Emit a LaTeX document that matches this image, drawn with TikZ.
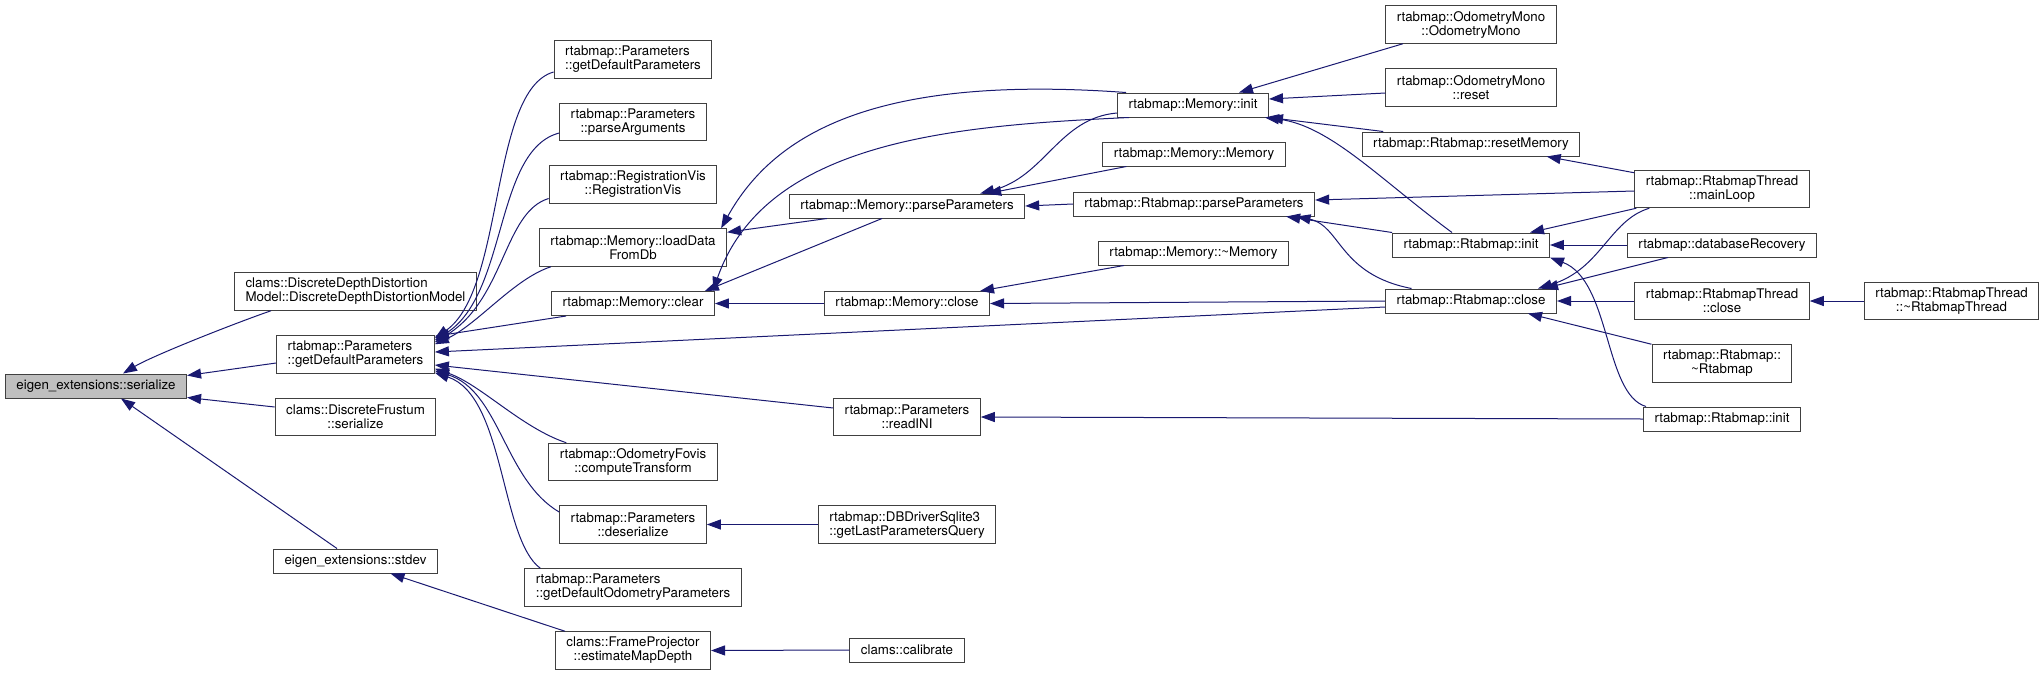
\documentclass[tikz,border=0pt]{standalone}
\usepackage{fontspec}
\setmainfont{TeX Gyre Heros}
\usepackage{tikz}
\usetikzlibrary{arrows.meta}
\definecolor{midnight}{RGB}{25,25,112}
\definecolor{boxline}{RGB}{64,64,64}
\definecolor{selfill}{RGB}{191,191,191}

\begin{document}
\begin{tikzpicture}[x=1pt, y=-1pt,
  fn/.style={draw=boxline, line width=1pt, fill=white, inner xsep=11pt, inner ysep=2pt, minimum height=24pt, align=center, font=\fontsize{13.3pt}{14pt}\selectfont},
  two/.style={minimum height=37.5pt},
  cur/.style={fn, fill=selfill},
  call/.style={draw=midnight, line width=1pt, -{Triangle[length=14pt, width=10pt]}}
]
  \useasboundingbox (0,0) rectangle (2044,675);

  \node[cur] (ser) at (96,386) {eigen\_extensions::serialize};
  \node[fn, two, align=left] (ddd) at (355.5,291.5) {clams::DiscreteDepthDistortion\\Model::DiscreteDepthDistortionModel};
  \node[fn, two, align=left] (gdp) at (355.5,354.5) {rtabmap::Parameters\\::getDefaultParameters};
  \node[fn, two] (dfs) at (355.5,417) {clams::DiscreteFrustum\\::serialize};
  \node[fn] (sdv) at (355.5,561) {eigen\_extensions::stdev};
  \node[fn, two, align=left] (gdp2) at (633,59.5) {rtabmap::Parameters\\::getDefaultParameters};
  \node[fn, two] (pa) at (633,122) {rtabmap::Parameters\\::parseArguments};
  \node[fn, two] (rv) at (633,184.5) {rtabmap::RegistrationVis\\::RegistrationVis};
  \node[fn, two] (ldb) at (633,247.5) {rtabmap::Memory::loadData\\FromDb};
  \node[fn] (mclr) at (633,303.5) {rtabmap::Memory::clear};
  \node[fn, two] (fov) at (633,462) {rtabmap::OdometryFovis\\::computeTransform};
  \node[fn, two] (des) at (633,524.5) {rtabmap::Parameters\\::deserialize};
  \node[fn, two, align=left] (gop) at (633,587.5) {rtabmap::Parameters\\::getDefaultOdometryParameters};
  \node[fn, two] (fpe) at (633,650.5) {clams::FrameProjector\\::estimateMapDepth};
  \node[fn] (mpp) at (907,206) {rtabmap::Memory::parseParameters};
  \node[fn] (mcl) at (907,303.5) {rtabmap::Memory::close};
  \node[fn, two] (rini) at (907,417) {rtabmap::Parameters\\::readINI};
  \node[fn, two, align=left] (dbq) at (907,524.5) {rtabmap::DBDriverSqlite3\\::getLastParametersQuery};
  \node[fn] (cal) at (907,650) {clams::calibrate};
  \node[fn] (minit) at (1193,105) {rtabmap::Memory::init};
  \node[fn] (mmem) at (1194,154) {rtabmap::Memory::Memory};
  \node[fn] (rpp) at (1194,204) {rtabmap::Rtabmap::parseParameters};
  \node[fn] (mdtor) at (1193.5,253) {rtabmap::Memory::\textasciitilde Memory};
  \node[fn, two] (omono) at (1471,24.5) {rtabmap::OdometryMono\\::OdometryMono};
  \node[fn, two] (oreset) at (1471,87.5) {rtabmap::OdometryMono\\::reset};
  \node[fn] (rrm) at (1471,144) {rtabmap::Rtabmap::resetMemory};
  \node[fn] (rinit) at (1471,245) {rtabmap::Rtabmap::init};
  \node[fn] (rclose) at (1471,301) {rtabmap::Rtabmap::close};
  \node[fn, two] (tml) at (1722,189) {rtabmap::RtabmapThread\\::mainLoop};
  \node[fn] (dbr) at (1722,245) {rtabmap::databaseRecovery};
  \node[fn, two] (tcl) at (1722,301) {rtabmap::RtabmapThread\\::close};
  \node[fn, two] (rdtor) at (1722,363.5) {rtabmap::Rtabmap::\\\textasciitilde Rtabmap};
  \node[fn] (rinit2) at (1722,419) {rtabmap::Rtabmap::init};
  \node[fn, two] (tdtor) at (1951.5,301) {rtabmap::RtabmapThread\\::\textasciitilde RtabmapThread};

  \draw[call] ([xshift=37pt]ddd.south west) .. controls +(-35,12) and +(30,-18) .. ([xshift=27pt]ser.north);
  \draw[call] ([yshift=-8.5pt]gdp.west) -- ([yshift=-2pt]ser.north east);
  \draw[call] ([yshift=10pt]dfs.west) -- ([yshift=1pt]ser.south east);
  \draw[call] ([xshift=-18.5pt]sdv.north) -- ([xshift=25pt]ser.south);
  \draw[call] ([xshift=10pt]fpe.north west) -- ([xshift=35pt]sdv.south);
  \draw[call] (cal.west) -- (fpe.east);
  \draw[call] ([yshift=-12.5pt]gdp2.west) .. controls +(-64,18) and +(70,-49) .. ([yshift=-3pt]gdp.north east);
  \draw[call] ([yshift=-11pt]pa.west) .. controls +(-65,17) and +(73,-46) .. ([yshift=-5pt]gdp.north east);
  \draw[call] ([yshift=-14pt]rv.west) .. controls +(-45,13.5) and +(70,-43) .. ([yshift=-7pt]gdp.north east);
  \draw[call] ([xshift=12pt]ldb.south west) .. controls +(-37,12) and +(43,-20) .. ([yshift=-9pt]gdp.north east);
  \draw[call] ([xshift=15pt]mclr.south west) -- ([yshift=-1pt]gdp.north east);
  \draw[call] ([yshift=-6pt]rclose.west) -- ([yshift=2.5pt]gdp.east);
  \draw[call] ([yshift=9pt]rini.west) -- ([yshift=-10.5pt]gdp.east);
  \draw[call] ([xshift=18pt]fov.north west) .. controls +(-45,-15) and +(45,15) .. ([yshift=5pt]gdp.south east);
  \draw[call] ([yshift=12.5pt]des.west) .. controls +(-55,-32) and +(65,20) .. ([yshift=3pt]gdp.south east);
  \draw[call] ([xshift=16pt]gop.north west) .. controls +(-40,-29) and +(70,23) .. ([yshift=1pt]gdp.south east);
  \draw[call] (dbq.west) -- (des.east);
  \draw[call] ([xshift=9pt]minit.north west) .. controls +(-247,-18) and +(54,-97) .. ([xshift=-6pt]ldb.north east);
  \draw[call] ([xshift=38pt]mpp.south west) -- ([yshift=-4pt]ldb.north east);
  \draw[call] ([xshift=12pt]minit.south west) .. controls +(-170,8) and +(53,-152) .. ([xshift=-2pt]mclr.north east);
  \draw[call] ([xshift=-25pt]mpp.south) -- ([xshift=-10pt]mclr.north east);
  \draw[call] (mcl.west) -- (mclr.east);
  \draw[call] ([yshift=-8pt]minit.west) .. controls +(-58,5) and +(65,-17) .. ([xshift=-45pt]mpp.north east);
  \draw[call] ([xshift=24pt]mmem.south west) -- ([xshift=-38pt]mpp.north east);
  \draw[call] (rpp.west) -- (mpp.east);
  \draw[call] ([xshift=26pt]mdtor.south west) -- ([xshift=-10pt]mcl.north east);
  \draw[call] (rclose.west) -- (mcl.east);
  \draw[call] (rinit2.west) -- (rini.east);
  \draw[call] ([xshift=17.6pt]omono.south west) -- ([xshift=-30pt]minit.north east);
  \draw[call] ([yshift=-5.5pt]oreset.west) -- ([yshift=6pt]minit.east);
  \draw[call] ([xshift=21.5pt]rrm.north west) -- (minit.south east);
  \draw[call] ([xshift=-19pt]rinit.north) .. controls +(-72,-53) and +(65,8) .. ([xshift=-4pt]minit.south east);
  \draw[call] ([yshift=-3pt]tml.north west) -- ([xshift=-33.6pt]rrm.south east);
  \draw[call] ([yshift=-2pt]tml.west) -- ([yshift=4pt]rpp.east);
  \draw[call] (rinit.north west) -- ([xshift=-29pt]rpp.south east);
  \draw[call] ([xshift=26.5pt]rclose.north west) .. controls +(-72.5,-14) and +(44,9) .. ([xshift=-18.6pt]rpp.south east);
  \draw[call] ([xshift=2pt]tml.south west) -- ([xshift=-20pt]rinit.north east);
  \draw[call] (dbr.west) -- (rinit.east);
  \draw[call] ([xshift=3pt]rinit2.north west) .. controls +(-42,-12) and +(61,23) .. (rinit.south east);
  \draw[call] ([xshift=15pt]tml.south west) .. controls +(-40,12) and +(63,-19) .. ([xshift=-19pt]rclose.north east);
  \draw[call] ([xshift=41pt]dbr.south west) -- ([xshift=-13pt]rclose.north east);
  \draw[call] (tcl.west) -- (rclose.east);
  \draw[call] (rdtor.north west) -- ([xshift=-29pt]rclose.south east);
  \draw[call] (tdtor.west) -- (tcl.east);
\end{tikzpicture}
\end{document}
